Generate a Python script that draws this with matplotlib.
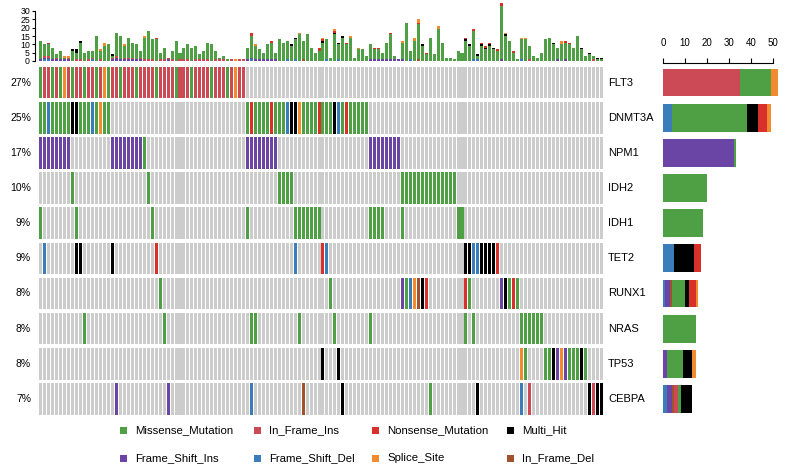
import matplotlib
matplotlib.use("Agg")
import matplotlib.pyplot as plt
from matplotlib.patches import Rectangle
import numpy as np

plt.rcParams['font.family'] = ['Liberation Sans', 'DejaVu Sans']

genes = ["FLT3", "DNMT3A", "NPM1", "IDH2", "IDH1", "TET2", "RUNX1", "NRAS", "TP53", "CEBPA"]
gene_pct = ["27%", "25%", "17%", "10%", "9%", "9%", "8%", "8%", "8%", "7%"]
n_samples = 142

# variant classes, in stacking order
vc_codes = ["D", "F", "E", "I", "M", "H", "N", "S"]
vc_names = ["Frame_Shift_Del", "Frame_Shift_Ins", "In_Frame_Del", "In_Frame_Ins",
            "Missense_Mutation", "Multi_Hit", "Nonsense_Mutation", "Splice_Site"]
vc_colors = ["#3A7DBA", "#6A45A6", "#A0522D", "#CC4A55",
             "#4FA044", "#000000", "#D9302B", "#F28A30"]

# mutated samples per gene: (first sample, class codes)
mut_FLT3 = [(0, "MIIMIMSIMIIMIIMISM"), (18, "IIMIIIMIIIIMIIIIMIIIMIIIIMIIIMISII")]
mut_DNMT3A = [(0, "MMDMMMMMHHMMMDMSMM"), (52, "MNMMMMNMMMDHHSMMMMNMMMHDMNMMMMM")]
mut_NPM1 = [(0, "FFFFFFFF"), (18, "FFFFFFFFM"), (52, "FFFFFFFF"), (83, "FFFFFFFF")]
mut_IDH2 = [(8, "M"), (27, "M"), (60, "MMMM"), (91, "MMMMMMMMMMMMMM")]
mut_IDH1 = [(0, "M"), (9, "M"), (28, "M"), (52, "M"), (64, "MMMMMMM"), (83, "MMMM"),
            (91, "M"), (105, "MM")]
mut_TET2 = [(1, "D"), (9, "HH"), (18, "H"), (29, "N"), (64, "D"), (71, "ND"),
            (107, "HHDDHHHHN")]
mut_RUNX1 = [(30, "M"), (73, "M"), (91, "FMDSEHN"), (107, "NM"), (116, "FHMNM")]
mut_NRAS = [(11, "M"), (31, "M"), (53, "MM"), (65, "M"), (74, "M"), (83, "M"),
            (107, "M"), (109, "M"), (121, "MMMMMM")]
mut_TP53 = [(71, "H"), (75, "H"), (121, "SM"), (127, "MMHFSFMMMHM")]
mut_CEBPA = [(19, "F"), (32, "F"), (53, "D"), (66, "E"), (76, "H"), (98, "M"),
             (110, "H"), (121, "D"), (123, "I"), (138, "HIHH")]
gene_muts = [mut_FLT3, mut_DNMT3A, mut_NPM1, mut_IDH2, mut_IDH1,
             mut_TET2, mut_RUNX1, mut_NRAS, mut_TP53, mut_CEBPA]

# total mutations per sample (top bar)
tmb_total = [12, 10, 11, 8, 4, 6, 3, 3, 7, 7, 12, 5, 6, 6, 15, 7, 11, 10, 4, 17,
             15, 10, 14, 11, 10, 6, 15, 18, 13, 14, 5, 8, 2, 6, 12, 5, 8, 10, 8, 9,
             4, 6, 11, 10, 6, 2, 3, 1, 1, 1, 1, 1, 8, 17, 10, 7, 5, 10, 12, 5,
             13, 11, 12, 10, 14, 17, 12, 16, 8, 5, 8, 14, 13, 2, 19, 11, 15, 11, 15, 2,
             8, 7, 3, 10, 8, 8, 5, 11, 17, 3, 1, 12, 23, 6, 14, 25, 10, 5, 14, 4,
             21, 11, 2, 2, 1, 6, 5, 14, 10, 19, 4, 11, 9, 11, 8, 7, 35, 17, 12, 6,
             1, 14, 14, 9, 3, 2, 5, 13, 14, 11, 8, 12, 12, 11, 8, 15, 8, 3, 5, 3,
             2, 2]
# extra non-missense hits outside the shown genes
tmb_extra = {2: "N", 7: "S", 16: "S", 21: "S", 26: "S", 53: "N", 54: "S", 70: "N",
             71: "S", 74: "SN", 78: "S", 80: "S", 84: "N", 85: "N", 88: "N", 91: "S",
             94: "S", 95: "SSN", 100: "SS", 109: "N", 111: "N", 112: "N", 113: "N",
             116: "NN", 117: "S", 122: "S", 131: "S", 132: "N", 133: "N"}

n_genes = len(genes)
code_idx = {c: i for i, c in enumerate(vc_codes)}

# matrix of classes
mat = [["" for _ in range(n_samples)] for _ in range(n_genes)]
for g, muts in enumerate(gene_muts):
    for start, codes in muts:
        for j, c in enumerate(codes):
            mat[g][start + j] = c

# stacked counts per sample
samp_counts = np.zeros((len(vc_codes), n_samples))
for g in range(n_genes):
    for s in range(n_samples):
        c = mat[g][s]
        if c and c != "M":
            samp_counts[code_idx[c], s] += 1
for s, codes in tmb_extra.items():
    for c in codes:
        samp_counts[code_idx[c], s] += 1
samp_counts[code_idx["M"]] = np.maximum(np.array(tmb_total) - samp_counts.sum(axis=0), 0)

# counts per gene per class (right bar)
gene_counts = np.zeros((n_genes, len(vc_codes)))
for g in range(n_genes):
    for c in mat[g]:
        if c:
            gene_counts[g, code_idx[c]] += 1

W, H = 786, 467
fig = plt.figure(figsize=(W / 100, H / 100), dpi=100)


def px_axes(x0, y0, x1, y1):
    return fig.add_axes([x0 / W, 1 - y1 / H, (x1 - x0) / W, (y1 - y0) / H])


mat_top, mat_bot = 65, 416.5
pitch = (mat_bot - mat_top) / n_genes
xs = np.arange(n_samples) + 0.5

# ---- oncoplot matrix
ax = px_axes(39, mat_top, 603, mat_bot)
for g in range(n_genes):
    cols = [vc_colors[code_idx[c]] if c else "#CCCCCC" for c in mat[g]]
    ax.bar(xs, 0.9, width=0.76, bottom=g - 0.45, color=cols, linewidth=0)
ax.set_xlim(0, n_samples)
ax.set_ylim(n_genes - 0.5, -0.5)
ax.axis("off")

# ---- top bar (mutations per sample)
axt = px_axes(39, 0, 603, 61)
bottom = np.zeros(n_samples)
for k, c in enumerate(vc_codes):
    axt.bar(xs, samp_counts[k], width=0.76, bottom=bottom, color=vc_colors[k], linewidth=0)
    bottom += samp_counts[k]
axt.set_xlim(0, n_samples)
axt.set_ylim(0, 36.6)
for side in ["top", "right", "bottom"]:
    axt.spines[side].set_visible(False)
axt.spines["left"].set_bounds(0, 30)
axt.spines["left"].set_position(("outward", 3))
axt.spines["left"].set_linewidth(0.8)
axt.set_xticks([])
axt.set_yticks(range(0, 31, 5))
axt.tick_params(axis="y", labelsize=6.3, length=2.5, width=0.8, pad=1)

# ---- right bar (mutations per gene)
axr = px_axes(663, mat_top, 786, mat_bot)
left = np.zeros(n_genes)
for k, c in enumerate(vc_codes):
    axr.barh(np.arange(n_genes), gene_counts[:, k], left=left, height=0.79,
             color=vc_colors[k], linewidth=0)
    left += gene_counts[:, k]
axr.set_xlim(0, 123 / 2.207)
axr.set_ylim(n_genes - 0.5, -0.5)
for side in ["bottom", "right", "left"]:
    axr.spines[side].set_visible(False)
axr.spines["top"].set_bounds(0, 50)
axr.spines["top"].set_position(("outward", 1.5))
axr.spines["top"].set_linewidth(0.8)
axr.set_yticks([])
axr.xaxis.tick_top()
axr.set_xticks(range(0, 51, 10))
axr.tick_params(axis="x", labelsize=7, length=3.6, width=0.8, pad=7)

# ---- gene names and percentages
for g in range(n_genes):
    yc = 1 - (mat_top + pitch * (g + 0.5)) / H
    fig.text(608 / W, yc, genes[g], ha="left", va="center", fontsize=8)
    fig.text(31 / W, yc, gene_pct[g], ha="right", va="center", fontsize=7.5)

# ---- legend
axl = px_axes(0, 418, W, H)
axl.set_xlim(0, W)
axl.set_ylim(H, 418)
axl.axis("off")
leg_order = ["M", "I", "N", "H", "F", "D", "S", "E"]
leg_x = [123, 257, 375, 510]
leg_y = [430, 458]
for n, c in enumerate(leg_order):
    x0 = leg_x[n % 4]
    y0 = leg_y[n // 4]
    k = code_idx[c]
    axl.add_patch(Rectangle((x0 - 3.5, y0 - 3.5), 7, 7, color=vc_colors[k], linewidth=0))
    axl.text(x0 + 12, y0, vc_names[k], ha="left", va="center", fontsize=8.2)

fig.savefig("out.png", dpi=100)
